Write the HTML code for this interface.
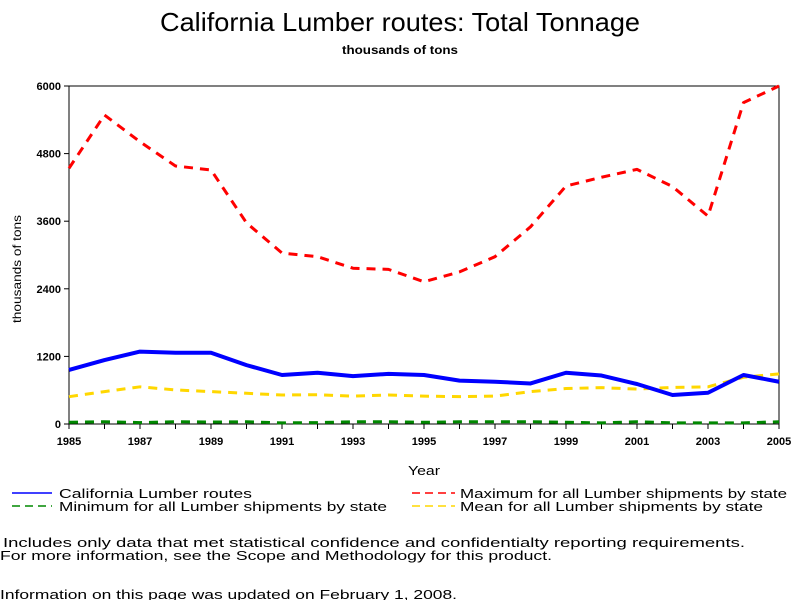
<!DOCTYPE html>
<html><head><meta charset="utf-8"><style>body{margin:0;background:#fff}svg{display:block}</style></head>
<body>
<svg id="chart" width="800" height="600" xmlns="http://www.w3.org/2000/svg" font-family="Liberation Sans, sans-serif">
<text x="400" y="31" font-size="26" text-anchor="middle" textLength="480" lengthAdjust="spacingAndGlyphs">California Lumber routes: Total Tonnage</text>
<text x="400" y="54" font-size="12" font-weight="bold" text-anchor="middle" textLength="116" lengthAdjust="spacingAndGlyphs">thousands of tons</text>
<rect x="69" y="86" width="710" height="338" fill="none" stroke="#000" stroke-width="1"/>
<g id="ticks"></g>
<g id="series"></g>
<text x="21" y="269" font-size="12" text-anchor="middle" transform="rotate(-90 21 269)" textLength="108" lengthAdjust="spacingAndGlyphs">thousands of tons</text>
<text x="424" y="475" font-size="13" text-anchor="middle" textLength="32" lengthAdjust="spacingAndGlyphs">Year</text>
<g font-size="13">
<line x1="12" y1="493" x2="52" y2="493" stroke="#00f" stroke-width="1.5"/>
<text x="59" y="498" textLength="193" lengthAdjust="spacingAndGlyphs">California Lumber routes</text>
<line x1="12" y1="506" x2="52" y2="506" stroke="#080" stroke-width="1.5" stroke-dasharray="8,5"/>
<text x="59" y="511" textLength="328" lengthAdjust="spacingAndGlyphs">Minimum for all Lumber shipments by state</text>
<line x1="412" y1="493" x2="455" y2="493" stroke="#f00" stroke-width="1.5" stroke-dasharray="8,5"/>
<text x="460" y="498" textLength="327" lengthAdjust="spacingAndGlyphs">Maximum for all Lumber shipments by state</text>
<line x1="412" y1="506" x2="455" y2="506" stroke="#ffd700" stroke-width="1.5" stroke-dasharray="8,5"/>
<text x="460" y="511" textLength="303" lengthAdjust="spacingAndGlyphs">Mean for all Lumber shipments by state</text>
</g>
<g font-size="13">
<text x="3" y="547" textLength="742" lengthAdjust="spacingAndGlyphs">Includes only data that met statistical confidence and confidentialty reporting requirements.</text>
<text x="0" y="560" textLength="552" lengthAdjust="spacingAndGlyphs">For more information, see the Scope and Methodology for this product.</text>
<text x="0" y="599" textLength="457" lengthAdjust="spacingAndGlyphs">Information on this page was updated on February 1, 2008.</text>
</g>
</svg>
<script>
const years=[1985,1986,1987,1988,1989,1990,1991,1992,1993,1994,1995,1996,1997,1998,1999,2000,2001,2002,2003,2004,2005];
const californiaValues=[960,1135,1285,1265,1265,1045,870,910,850,890,870,770,750,720,910,860,710,515,555,870,750];
const maximumValues=[4540,5485,5010,4580,4510,3570,3035,2970,2765,2745,2525,2700,2970,3500,4225,4380,4520,4215,3690,5705,6000];
const meanValues=[485,575,660,605,575,545,515,520,495,515,495,485,495,575,630,645,620,650,660,830,890];
const minimumValues=[30,40,25,40,35,40,20,25,40,40,30,40,40,40,30,20,40,20,20,20,40];
const yTicks=[0,1200,2400,3600,4800,6000];
const xTickLabels=[1985,1987,1989,1991,1993,1995,1997,1999,2001,2003,2005];
const NS="http://www.w3.org/2000/svg";
function xs(y){return 69+(y-1985)*(710/20);}
function ys(v){return 424-v*338/6000;}
const ticks=document.getElementById('ticks');
const series=document.getElementById('series');
function mk(tag,attrs,parent){const e=document.createElementNS(NS,tag);for(const k in attrs)e.setAttribute(k,attrs[k]);parent.appendChild(e);return e;}
yTicks.forEach(v=>{
  const l=mk('line',{x1:64,x2:69,y1:ys(v),y2:ys(v),stroke:'#000'},ticks);
  
  
  const t=mk('text',{x:61,y:ys(v)+4,'font-size':11,'font-weight':'bold','text-anchor':'end'},ticks);
  t.textContent=v;
  
  
});
years.forEach(y=>{
  const l=mk('line',{x1:xs(y),x2:xs(y),y1:424,y2:429,stroke:'#000'},ticks);
  
  
});
xTickLabels.forEach(y=>{
  const t=mk('text',{x:xs(y),y:445,'font-size':11,'font-weight':'bold','text-anchor':'middle'},ticks);
  t.textContent=y;
  
  
});
function line(vals,color,w,dash,name){
  const pts=vals.map((v,i)=>xs(years[i])+','+ys(v)).join(' ');
  const p=mk('polyline',{points:pts,fill:'none',stroke:color,'stroke-width':w,'stroke-dasharray':dash,'stroke-linejoin':'round'},series);
  
  
}
line(minimumValues,'#080',3,'9,7','minimum-line');
line(meanValues,'#ffd700',3,'9,7','mean-line');
line(maximumValues,'#f00',3,'9,7','maximum-line');
line(californiaValues,'#00f',4,'none','california-line');
</script>
</body></html>
